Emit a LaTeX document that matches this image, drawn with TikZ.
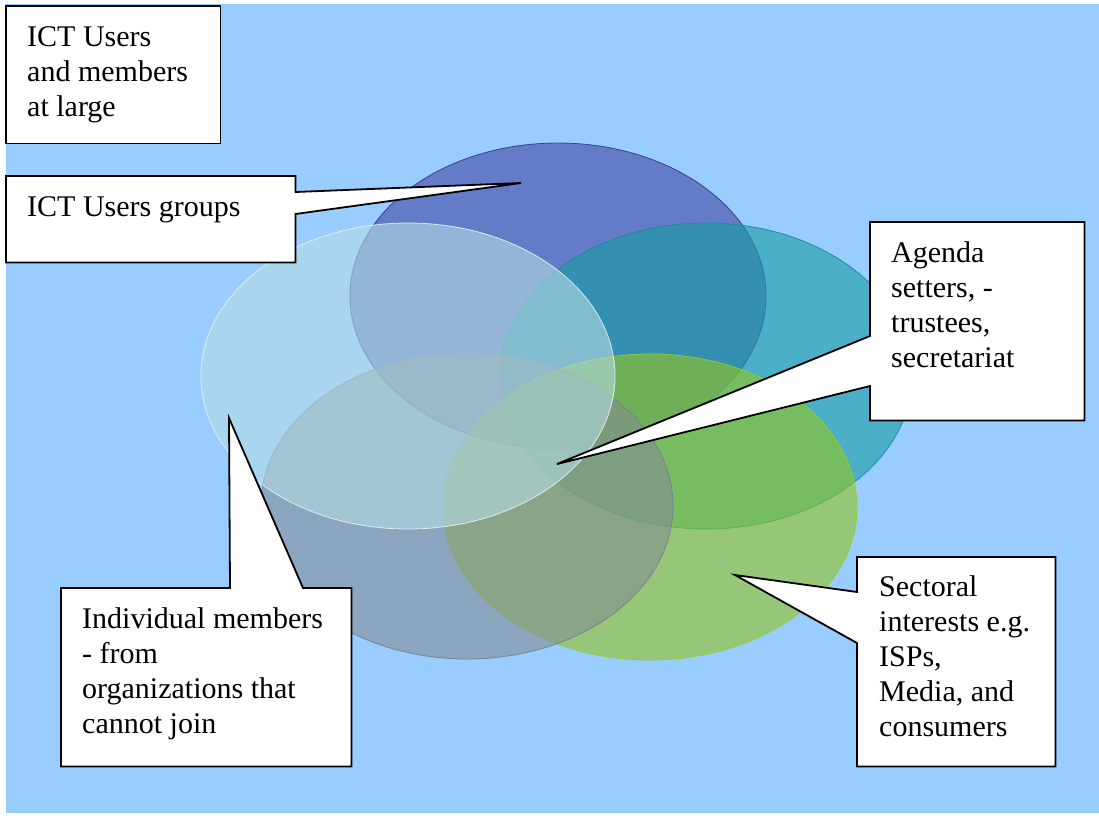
\documentclass[tikz,border=0pt]{standalone}
\usepackage{fontspec}
\setmainfont{Liberation Serif}
\newfontfamily\boxserif{Liberation Serif}
\usetikzlibrary{calc}
\definecolor{bg}{RGB}{153,204,255}
\definecolor{vdark}{RGB}{66,72,163}
\definecolor{vdarkE}{RGB}{50,56,140}
\definecolor{vteal}{RGB}{23,156,163}
\definecolor{vtealE}{RGB}{20,140,150}
\definecolor{vgreen}{RGB}{148,197,30}
\definecolor{vgreenE}{RGB}{150,205,40}
\definecolor{vgrey}{RGB}{130,141,147}
\definecolor{vgreyE}{RGB}{118,128,138}
\definecolor{vlight}{RGB}{180,219,227}
\definecolor{vlightE}{RGB}{225,242,248}
\begin{document}
\begin{tikzpicture}[x=1pt,y=-1pt,
  boxshape/.style={rectangle, draw=none, fill=none, inner sep=0pt, anchor=north west},
  calloutline/.style={draw=black, fill=white, line width=1.8pt, line join=miter},
  lbl/.style={font=\boxserif\fontsize{30}{35}\selectfont, align=left, inner sep=0pt, anchor=north west},
  venn/.style={fill opacity=0.6, draw opacity=0.9, line width=0.8pt}]
\useasboundingbox (0,0) rectangle (1099,817);
\fill[white] (0,0) rectangle (1099,817);
\fill[bg] (6,4) rectangle (1099,813);
% Venn ellipses
\draw[venn, fill=vdark, draw=vdarkE] (558,296) ellipse [x radius=208, y radius=153];
\draw[venn, fill=vteal, draw=vtealE] (706,376) ellipse [x radius=206, y radius=153];
\draw[venn, fill=vgreen, draw=vgreenE] (650,507) ellipse [x radius=207, y radius=153];
\draw[venn, fill=vgrey, draw=vgreyE] (467,506) ellipse [x radius=206, y radius=153];
\draw[venn, fill=vlight, draw=vlightE] (408,376) ellipse [x radius=207, y radius=153];
% pointer tips
\coordinate (tip2) at (521,183);
\coordinate (tip3) at (557,464);
\coordinate (tip4) at (229,418);
\coordinate (tip5) at (735,575);
% boxes
\node[boxshape, minimum width=214pt, minimum height=137pt] (b1) at (6,6) {};
\node[boxshape, minimum width=289pt, minimum height=86pt] (b2) at (6,176) {};
\node[boxshape, minimum width=214pt, minimum height=198pt] (b3) at (870,222) {};
\node[boxshape, minimum width=290pt, minimum height=178pt] (b4) at (61,588) {};
\node[boxshape, minimum width=198pt, minimum height=209pt] (b5) at (857,557) {};
% callout outlines
\draw[calloutline] (b1.north west) rectangle (b1.south east);
\draw[calloutline] (b2.north west) -- (b2.north east) -- ($(b2.north east)+(0,16)$) -- (tip2)
  -- ($(b2.north east)+(0,38)$) -- (b2.south east) -- (b2.south west) -- cycle;
\draw[calloutline] (b3.north west) -- (b3.north east) -- (b3.south east) -- (b3.south west)
  -- ($(b3.north west)+(0,164)$) -- (tip3) -- ($(b3.north west)+(0,114)$) -- cycle;
\draw[calloutline] (b4.north west) -- ($(b4.north west)+(169,0)$) -- (tip4)
  -- ($(b4.north west)+(242,0)$) -- (b4.north east) -- (b4.south east) -- (b4.south west) -- cycle;
\draw[calloutline] (b5.north west) -- (b5.north east) -- (b5.south east) -- (b5.south west)
  -- ($(b5.north west)+(0,86)$) -- (tip5) -- ($(b5.north west)+(0,35)$) -- cycle;
% texts
\node[lbl] (t1) at ($(b1.north west)+(21,20)$) {ICT Users\\and members\\at large};
\node[lbl] (t2) at ($(b2.north west)+(21,20)$) {ICT Users groups};
\node[lbl] (t3) at ($(b3.north west)+(21,19)$) {Agenda\\setters, -\\trustees,\\secretariat};
\node[lbl] (t4) at ($(b4.north west)+(21,19)$) {Individual members\\- from\\organizations that\\cannot join};
\node[lbl] (t5) at ($(b5.north west)+(22,18)$) {Sectoral\\interests e.g.\\ISPs,\\Media, and\\consumers};
\end{tikzpicture}
\end{document}
